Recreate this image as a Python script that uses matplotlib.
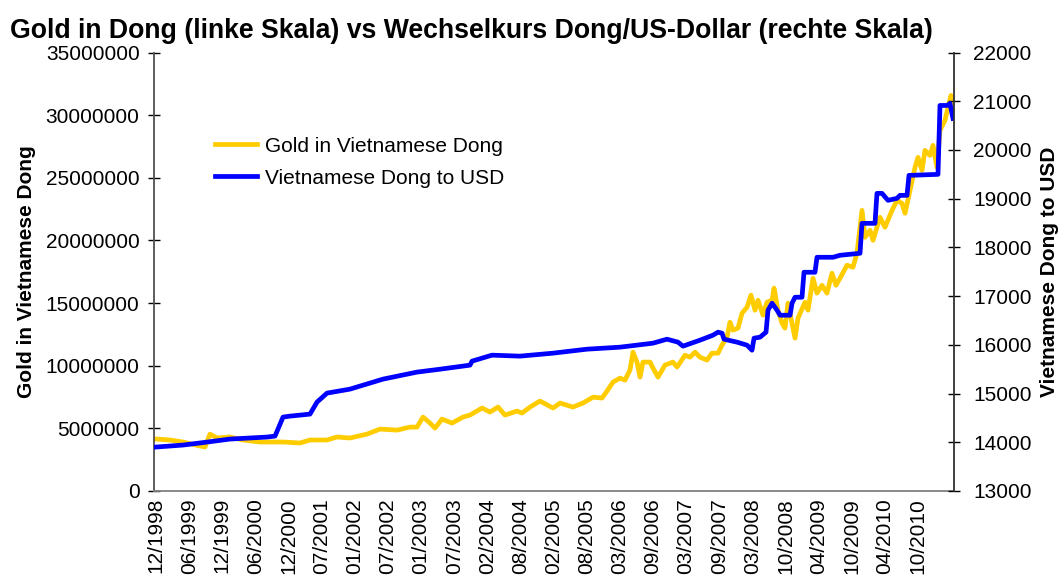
import matplotlib
matplotlib.use("Agg")
import matplotlib.pyplot as plt
from matplotlib.ticker import FixedLocator, FuncFormatter

plt.rcParams['font.family'] = ['Liberation Sans', 'DejaVu Sans']

title = "Gold in Dong (linke Skala) vs Wechselkurs Dong/US-Dollar (rechte Skala)"
left_label = "Gold in Vietnamese Dong"
right_label = "Vietnamese Dong to USD"
gold_name = "Gold in Vietnamese Dong"
usd_name = "Vietnamese Dong to USD"

tick_labels = ["12/1998", "06/1999", "12/1999", "06/2000", "12/2000", "07/2001",
               "01/2002", "07/2002", "01/2003", "07/2003", "02/2004", "08/2004",
               "02/2005", "08/2005", "03/2006", "09/2006", "03/2007", "09/2007",
               "03/2008", "10/2008", "04/2009", "10/2009", "04/2010", "10/2010"]
first_tick_year = 1998.925
tick_step_years = 27 * 7 / 365.25   # labels every 27 weekly categories

left_ticks = [0, 5000000, 10000000, 15000000, 20000000, 25000000, 30000000, 35000000]
right_ticks = [13000, 14000, 15000, 16000, 17000, 18000, 19000, 20000, 21000, 22000]

# time in decimal years
gold_year = [1998.925, 1999.144, 1999.347, 1999.612, 1999.690, 1999.768, 1999.878, 2000.081,
             2000.284, 2000.549, 2000.909, 2001.174, 2001.330, 2001.596, 2001.752, 2001.955,
             2002.221, 2002.424, 2002.689, 2002.892, 2003.002, 2003.095, 2003.205, 2003.283,
             2003.392, 2003.548, 2003.720, 2003.829, 2004.017, 2004.142, 2004.267, 2004.376,
             2004.564, 2004.642, 2004.767, 2004.923, 2005.126, 2005.235, 2005.438, 2005.594,
             2005.751, 2005.891, 2005.969, 2006.063, 2006.172, 2006.250, 2006.328, 2006.375,
             2006.438, 2006.485, 2006.531, 2006.641, 2006.688, 2006.766, 2006.875, 2007.000,
             2007.063, 2007.188, 2007.266, 2007.344, 2007.422, 2007.531, 2007.609, 2007.703,
             2007.765, 2007.844, 2007.890, 2007.937, 2008.015, 2008.078, 2008.156, 2008.218,
             2008.281, 2008.328, 2008.406, 2008.468, 2008.546, 2008.578, 2008.640, 2008.703,
             2008.749, 2008.796, 2008.859, 2008.906, 2008.952, 2009.062, 2009.109, 2009.187,
             2009.249, 2009.327, 2009.405, 2009.483, 2009.546, 2009.608, 2009.718, 2009.811,
             2009.874, 2009.952, 2009.999, 2010.077, 2010.124, 2010.233, 2010.311, 2010.421,
             2010.499, 2010.577, 2010.624, 2010.702, 2010.780, 2010.827, 2010.889, 2010.936,
             2011.014, 2011.061, 2011.123, 2011.170, 2011.248, 2011.295, 2011.342, 2011.373]
gold_vnd = [4150000, 4070000, 3910000, 3590000, 3510000, 4540000, 4230000, 4310000,
            4070000, 3910000, 3910000, 3830000, 4070000, 4070000, 4310000, 4230000,
            4540000, 4940000, 4860000, 5100000, 5100000, 5900000, 5420000, 5020000,
            5740000, 5420000, 5900000, 6060000, 6620000, 6300000, 6700000, 6060000,
            6380000, 6220000, 6700000, 7180000, 6620000, 7020000, 6700000, 7020000,
            7490000, 7420000, 7970000, 8690000, 9010000, 8850000, 9650000, 11080000,
            10290000, 9090000, 10290000, 10290000, 9810000, 9090000, 10050000, 10290000,
            9890000, 10840000, 10680000, 11080000, 10680000, 10450000, 11000000, 11000000,
            11640000, 12280000, 13470000, 12840000, 13000000, 14190000, 14670000, 15630000,
            14430000, 15230000, 14030000, 15070000, 15230000, 16190000, 14430000, 13390000,
            13000000, 14990000, 13390000, 12200000, 13790000, 15070000, 14430000, 16980000,
            15790000, 16420000, 15790000, 17380000, 16420000, 16980000, 18020000, 17860000,
            18980000, 22400000, 20250000, 20810000, 20010000, 21850000, 21050000, 22400000,
            23200000, 22960000, 22170000, 24000000, 25830000, 26630000, 25590000, 27190000,
            26790000, 27590000, 25830000, 28780000, 29580000, 30620000, 31570000, 30940000]

usd_year = [1998.925, 1999.347, 1999.722, 2000.081, 2000.659, 2000.784, 2000.909, 2001.018,
            2001.330, 2001.440, 2001.596, 2001.955, 2002.470, 2003.001, 2003.361, 2003.829,
            2003.861, 2004.173, 2004.610, 2005.126, 2005.657, 2006.172, 2006.688, 2006.906,
            2007.078, 2007.156, 2007.422, 2007.625, 2007.703, 2007.766, 2007.797, 2008.000,
            2008.156, 2008.234, 2008.266, 2008.359, 2008.453, 2008.484, 2008.547, 2008.625,
            2008.672, 2008.828, 2008.859, 2008.906, 2009.015, 2009.046, 2009.218, 2009.249,
            2009.499, 2009.608, 2009.921, 2009.952, 2010.155, 2010.186, 2010.264, 2010.358,
            2010.498, 2010.545, 2010.655, 2010.686, 2011.139, 2011.170, 2011.280, 2011.327,
            2011.373]
usd_vnd = [13902, 13943, 14004, 14066, 14107, 14127, 14517, 14537,
           14578, 14825, 15009, 15091, 15296, 15440, 15500, 15583,
           15665, 15788, 15768, 15829, 15911, 15952, 16034, 16116,
           16055, 15973, 16096, 16198, 16260, 16239, 16116, 16055,
           15993, 15890, 16137, 16157, 16260, 16711, 16854, 16711,
           16608, 16608, 16854, 16977, 16977, 17490, 17490, 17797,
           17797, 17838, 17879, 18494, 18494, 19109, 19109, 18966,
           19006, 19068, 19068, 19478, 19499, 20913, 20913, 20954,
           20647]

gold_color = "#FFCC00"
usd_color = "#0000FF"
fs = 15

fig = plt.figure(figsize=(10.64, 5.81), dpi=100)
ax = fig.add_axes([153.5 / 1064, 1 - 491 / 581, (954 - 153.5) / 1064, (491 - 52.5) / 581])
ax2 = ax.twinx()

l1, = ax.plot(gold_year, gold_vnd, color=gold_color, lw=3.4, solid_joinstyle='round')
l2, = ax2.plot(usd_year, usd_vnd, color=usd_color, lw=3.4, solid_joinstyle='round')

ax.set_xlim(1998.886, 2011.389)
ax.set_ylim(0, 35000000)
ax2.set_ylim(13000, 22000)

ticks = [first_tick_year + i * tick_step_years for i in range(len(tick_labels))]
ax.xaxis.set_major_locator(FixedLocator(ticks))
ax.set_xticklabels(tick_labels, rotation=90, fontsize=fs)
ax.tick_params(axis='x', length=0, pad=5)

ax.yaxis.set_major_locator(FixedLocator(left_ticks))
ax.yaxis.set_major_formatter(FuncFormatter(lambda v, p: f"{int(v)}"))
ax.tick_params(axis='y', direction='inout', length=8, width=1, labelsize=fs, pad=6)
ax2.yaxis.set_major_locator(FixedLocator(right_ticks))
ax2.yaxis.set_major_formatter(FuncFormatter(lambda v, p: f"{int(v)}"))
ax2.tick_params(axis='y', direction='inout', length=8, width=1, labelsize=fs, pad=10)

for a in (ax, ax2):
    a.spines['top'].set_visible(False)
ax.spines['right'].set_visible(False)
ax2.spines['left'].set_visible(False)
ax2.spines['bottom'].set_visible(False)
ax.spines['left'].set_color('#505050')
ax.spines['bottom'].set_color('#808080')
ax2.spines['right'].set_color('#303030')
for s in ('left', 'bottom'):
    ax.spines[s].set_linewidth(1.3)
ax2.spines['right'].set_linewidth(1.3)

ax.set_ylabel(left_label, fontsize=fs, fontweight='bold')
ax.yaxis.set_label_coords(-0.147, 0.5)
ax2.set_ylabel(right_label, fontsize=fs, fontweight='bold', rotation=90)
ax2.yaxis.set_label_coords(1.108, 0.5)

fig.text(10 / 1064, 1 - 38 / 581, title, ha='left', va='baseline', fontsize=19.2, fontweight='bold')

ax2.legend([l1, l2], [gold_name, usd_name], loc='upper left', bbox_to_anchor=(0.0768, 0.808),
           frameon=False, fontsize=fs, handlelength=2.0, handletextpad=0.4,
           borderpad=0, borderaxespad=0, labelspacing=0.62)

fig.savefig("out.png", dpi=100)
